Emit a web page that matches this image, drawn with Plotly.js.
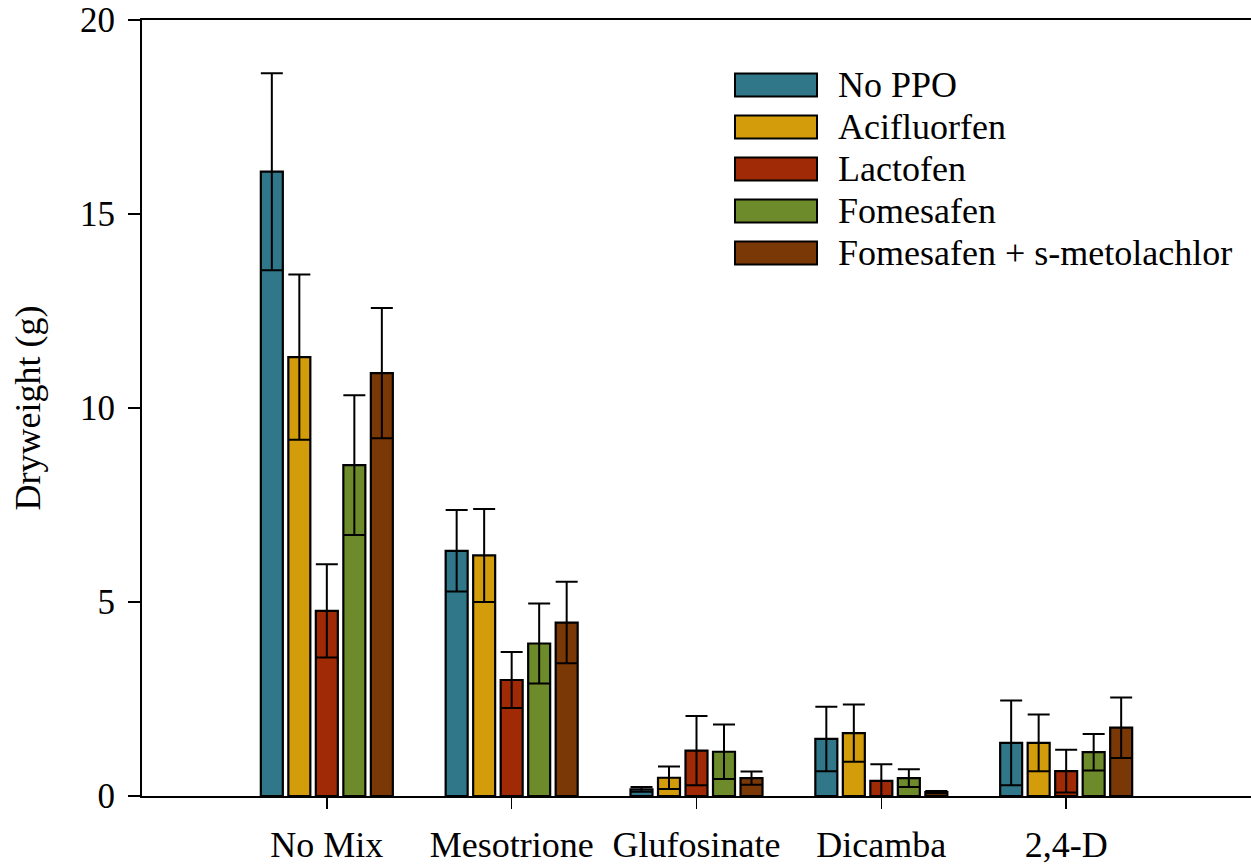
<!DOCTYPE html>
<html>
<head>
<meta charset="utf-8">
<script src="https://cdn.plot.ly/plotly-3.0.1.min.js"></script>
<style>html,body{margin:0;padding:0;background:#fff;}#chart{width:1251px;height:865px;}</style>
</head>
<body>
<div id="chart"></div>
<script>
const categories = ["No Mix", "Mesotrione", "Glufosinate", "Dicamba", "2,4-D"];
const seriesNames = ["No PPO", "Acifluorfen", "Lactofen", "Fomesafen", "Fomesafen + s-metolachlor"];
const seriesColors = ["#30778A", "#D29C0A", "#A02906", "#6E8B2C", "#7A3806"];

const noPPO       = [16.09, 6.32, 0.17, 1.47, 1.37];
const acifluorfen = [11.31, 6.20, 0.47, 1.62, 1.37];
const lactofen    = [4.77, 2.99, 1.17, 0.39, 0.64];
const fomesafen   = [8.53, 3.93, 1.14, 0.46, 1.13];
const fomesafenSM = [10.90, 4.47, 0.46, 0.10, 1.76];

const noPPOErr       = [2.54, 1.05, 0.06, 0.83, 1.09];
const acifluorfenErr = [2.13, 1.20, 0.29, 0.74, 0.73];
const lactofenErr    = [1.20, 0.72, 0.89, 0.43, 0.55];
const fomesafenErr   = [1.80, 1.03, 0.70, 0.23, 0.47];
const fomesafenSMErr = [1.68, 1.05, 0.17, 0.03, 0.78];

const yTicks = [0, 5, 10, 15, 20];

const values = [noPPO, acifluorfen, lactofen, fomesafen, fomesafenSM];
const errors = [noPPOErr, acifluorfenErr, lactofenErr, fomesafenErr, fomesafenSMErr];

const FONT = '"Liberation Serif", "Times New Roman", Times, serif';

const traces = values.map((v, i) => ({
  type: 'bar',
  name: seriesNames[i],
  x: categories,
  y: v,
  marker: {color: seriesColors[i], line: {color: '#000', width: 2.2}},
  error_y: {type: 'data', array: errors[i], visible: true, color: '#000', thickness: 2, width: 11},
  showlegend: false,
  hoverinfo: 'x+y+name'
}));

// custom legend (large swatches like the reference)
const shapes = [];
const annotations = [];
const plotTop = 20, plotBottom = 796, plotLeft = 142, plotRight = 1251;
const ph = plotBottom - plotTop, pw = plotRight - plotLeft;
seriesNames.forEach((name, i) => {
  const cy = 85 + i * 42;
  shapes.push({
    type: 'rect', xref: 'paper', yref: 'paper',
    x0: (735 - plotLeft) / pw, x1: (817 - plotLeft) / pw,
    y0: (plotBottom - (cy + 11.5)) / ph, y1: (plotBottom - (cy - 11.5)) / ph,
    fillcolor: seriesColors[i], line: {color: '#000', width: 2}
  });
  annotations.push({
    xref: 'paper', yref: 'paper',
    x: (836 - plotLeft) / pw, y: (plotBottom - cy) / ph,
    xanchor: 'left', yanchor: 'middle', showarrow: false,
    text: name, font: {family: FONT, size: 36, color: '#000'}
  });
});

const layout = {
  width: 1251, height: 865,
  margin: {l: 142, r: 0, t: 20, b: 69},
  paper_bgcolor: '#fff', plot_bgcolor: '#fff',
  font: {family: FONT, color: '#000'},
  barmode: 'group',
  bargap: 0.256,
  bargroupgap: 0.2,
  xaxis: {
    type: 'category',
    range: [-1, 5],
    showline: true, linecolor: '#000', linewidth: 2,
    mirror: true,
    ticks: 'outside', ticklen: 11, tickwidth: 1.5, tickcolor: '#000',
    tickfont: {family: FONT, size: 36, color: '#000'},
    ticklabelstandoff: 5,
    showgrid: false, zeroline: false, fixedrange: true
  },
  yaxis: {
    range: [0, 20],
    tickvals: yTicks,
    ticktext: yTicks.map(String),
    showline: true, linecolor: '#000', linewidth: 2,
    ticks: 'outside', ticklen: 12, tickwidth: 2, tickcolor: '#000',
    tickfont: {family: FONT, size: 35, color: '#000'},
    ticklabelstandoff: 6,
    showgrid: false, zeroline: false, fixedrange: true,
    title: {text: 'Dryweight (g)', font: {family: FONT, size: 36, color: '#000'}, standoff: 28}
  },
  shapes: shapes,
  annotations: annotations
};

Plotly.newPlot('chart', traces, layout, {displayModeBar: false, staticPlot: true});
</script>
</body>
</html>
